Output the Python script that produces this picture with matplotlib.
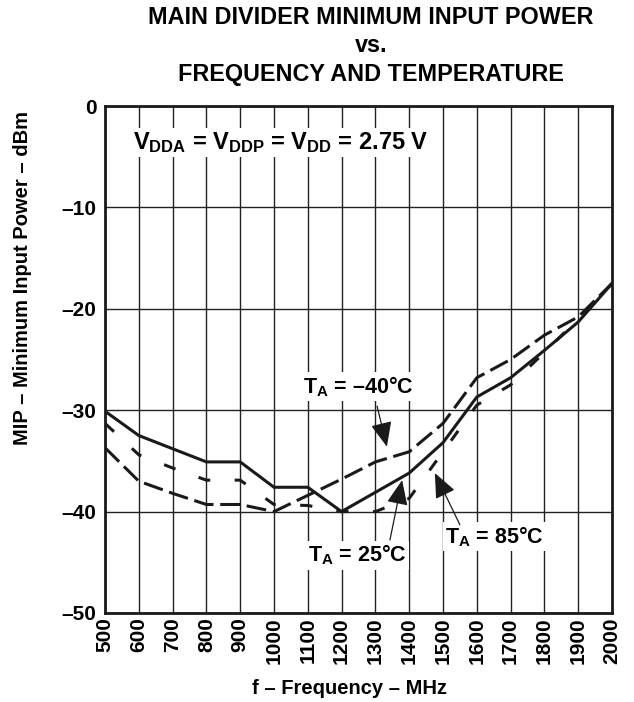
import numpy as np
import matplotlib
matplotlib.use('Agg')
import matplotlib.pyplot as plt

plt.rcParams['font.family'] = ['Liberation Sans', 'DejaVu Sans']
plt.rcParams['font.weight'] = 'bold'
plt.rcParams['mathtext.fontset'] = 'custom'
plt.rcParams['mathtext.rm'] = 'Liberation Sans:bold'
plt.rcParams['mathtext.bf'] = 'Liberation Sans:bold'
plt.rcParams['mathtext.it'] = 'Liberation Sans:bold'

# frequency points, MHz
freq = [500, 600, 700, 800, 900, 1000, 1100, 1200, 1300, 1400, 1500, 1600, 1700, 1800, 1900, 2000]

# minimum input power, dBm
mip_25 = [-30.1, -32.5, -33.8, -35.1, -35.1, -37.6, -37.6, -40.0, -38.1, -36.2, -33.2, -28.7, -26.8, -24.1, -21.3, -17.5]
mip_m40 = [-33.7, -37.0, -38.2, -39.3, -39.3, -40.0, -38.4, -36.8, -35.1, -34.1, -31.3, -26.8, -25.0, -22.6, -20.8, -17.5]
mip_85 = [-31.3, -34.4, -35.7, -36.9, -36.9, -39.3, -39.4, -40.0, -40.0, -38.7, -34.1, -29.5, -27.5, -24.3, -21.0, -17.5]

xticks = list(range(500, 2001, 100))
yticks = [0, -10, -20, -30, -40, -50]

fig = plt.figure(figsize=(6.34, 7.02), dpi=100)
ax = fig.add_axes([0.1656, 0.1268, 0.7997, 0.7222])

lw = 2.2
ax.plot(freq, mip_25, color='#1a1a1a', linewidth=lw, solid_joinstyle='miter', zorder=3)
ax.plot(freq, mip_m40, color='#1a1a1a', linewidth=lw, dashes=(6.5, 2.2), zorder=3)
ax.plot(freq, mip_85, color='#1a1a1a', linewidth=lw, dashes=(4, 8), zorder=3)

ax.set_xlim(500, 2000)
ax.set_ylim(-50, 0)
ax.set_xticks(xticks)
ax.set_yticks(yticks)
ax.set_xticklabels([str(v) for v in xticks], rotation=90, fontsize=15, fontweight='bold')
ax.set_yticklabels([str(v).replace('-', '\u2013') for v in yticks], fontsize=15, fontweight='bold')
ax.tick_params(axis='x', length=0, pad=3)
ax.tick_params(axis='y', length=0, pad=6)
ax.grid(True, color='#222222', linewidth=1.0, zorder=1)
ax.set_axisbelow(True)
for s in ax.spines.values():
    s.set_linewidth(2.0)
    s.set_color('#1a1a1a')

fig.text(350 / 634, 1 - 688 / 702, 'f \u2013 Frequency \u2013 MHz', fontsize=14.5,
         fontweight='bold', ha='center', va='center')
fig.text(23 / 634, 1 - 278 / 702, 'MIP \u2013 Minimum Input Power \u2013 dBm', fontsize=14.5,
         fontweight='bold', ha='center', va='center', rotation=90)

box = dict(facecolor='white', edgecolor='none', pad=1.5)
ax.text(583, -3.6, r'V$_{\mathbf{DDA}}$ = V$_{\mathbf{DDP}}$ = V$_{\mathbf{DD}}$ = 2.75 V',
        fontsize=17, fontweight='bold', va='center', ha='left', bbox=box, zorder=4)

ax.text(1251, -27.7, 'T$_{\\mathbf{A}}$ = \u201340\u00b0C', fontsize=15.5, fontweight='bold',
        ha='center', va='center', bbox=box, zorder=4)
ax.text(1246, -44.3, 'T$_{\\mathbf{A}}$ = 25\u00b0C', fontsize=15.5, fontweight='bold',
        ha='center', va='center', bbox=box, zorder=4)
ax.text(1651, -42.5, 'T$_{\\mathbf{A}}$ = 85\u00b0C', fontsize=15.5, fontweight='bold',
        ha='center', va='center', bbox=box, zorder=4)

arrow = dict(arrowstyle='-|>,head_length=0.7,head_width=0.3', color='#1a1a1a', lw=0.9,
             mutation_scale=22, shrinkA=0, shrinkB=0)
ax.annotate('', xy=(1334, -33.6), xytext=(1305, -29.6), arrowprops=arrow, zorder=5)
ax.annotate('', xy=(1379, -36.9), xytext=(1343, -42.8), arrowprops=arrow, zorder=5)
ax.annotate('', xy=(1476, -36.2), xytext=(1550, -41.3), arrowprops=arrow, zorder=5)

fig.text(371 / 634, 1 - 17 / 702, 'MAIN DIVIDER MINIMUM INPUT POWER', fontsize=16.8,
         fontweight='bold', ha='center', va='center')
fig.text(371 / 634, 1 - 45 / 702, 'vs.', fontsize=16.8, fontweight='bold', ha='center', va='center')
fig.text(371 / 634, 1 - 75 / 702, 'FREQUENCY AND TEMPERATURE', fontsize=16.8,
         fontweight='bold', ha='center', va='center')

fig.savefig('out.png', dpi=100)
